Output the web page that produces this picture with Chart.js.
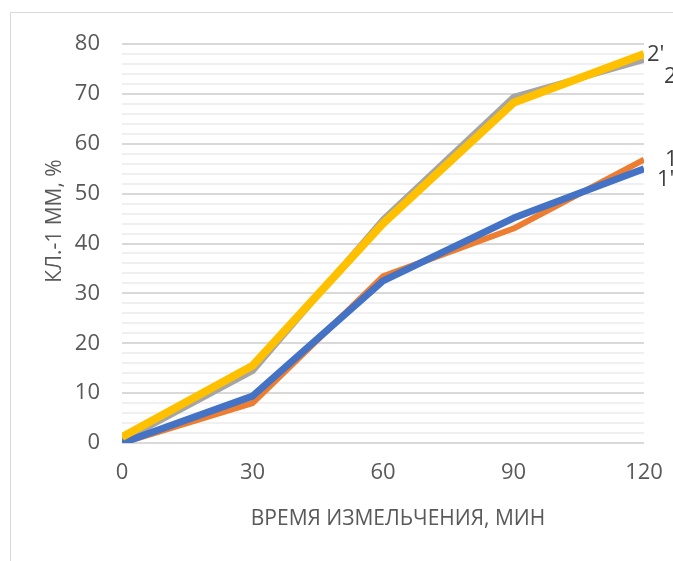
<!DOCTYPE html>
<html>
<head>
<meta charset="utf-8">
<script src="https://cdn.jsdelivr.net/npm/chart.js@4.4.1/dist/chart.umd.min.js"></script>
<style>
  body { margin: 0; background: #fff; }
  #wrap { position: relative; width: 673px; height: 561px; overflow: hidden; }
  #frame { position: absolute; left: 10px; top: 12px; right: -2px; bottom: -2px;
           border-left: 1px solid #d9d9d9; border-top: 1px solid #d9d9d9; }
  canvas { position: absolute; left: 0; top: 0; }
</style>
</head>
<body>
<div id="wrap">
  <div id="frame"></div>
  <canvas id="chart" width="673" height="561"></canvas>
</div>
<script>
// data
var timeMin = [0, 30, 60, 90, 120];
var curve1 = [0, 8.0, 33.4, 43.0, 56.8];        // orange, "1"
var curve1p = [0, 9.4, 32.5, 45.1, 55.0];       // blue, "1'"
var curve2 = [0.4, 14.4, 44.8, 69.4, 76.8];     // gray, "2"
var curve2p = [1.2, 15.5, 44.0, 68.2, 78.0];    // yellow, "2'"
var curveNames = ["2'", "1'", "2", "1"];
var yTickLabels = [0, 10, 20, 30, 40, 50, 60, 70, 80];
var xTitle = 'ВРЕМЯ ИЗМЕЛЬЧЕНИЯ, МИН';
var yTitle = 'КЛ.-1 ММ, %';

var fontFam = "'Open Sans', 'Noto Sans', sans-serif";
var textColor = '#595959';

function toPoints(ys) {
    var pts = [];
    for (var i = 0; i < ys.length; i++) {
        pts.push({x: timeMin[i], y: ys[i]});
    }
    return pts;
}

// offsets of the end labels (px) from last point of each line
var labelOffsets = [[3, 1], [13, 11], [20, 17], [21, 0]];

var extraText = {
    id: 'extraText',
    afterDatasetsDraw: function(chart) {
        var ctx = chart.ctx;
        ctx.save();
        ctx.font = '22px ' + fontFam;
        ctx.fillStyle = '#404040';
        ctx.textBaseline = 'middle';
        ctx.textAlign = 'left';
        chart.data.datasets.forEach(function(ds, i) {
            var last = ds.data[ds.data.length - 1];
            var px = chart.scales.x.getPixelForValue(last.x);
            var py = chart.scales.y.getPixelForValue(last.y);
            ctx.fillText(curveNames[i], px + labelOffsets[i][0], py + labelOffsets[i][1]);
        });
        // axis titles
        ctx.font = '21px ' + fontFam;
        ctx.fillStyle = textColor;
        ctx.textAlign = 'center';
        ctx.fillText(xTitle, 398, 519);
        ctx.translate(55, 221);
        ctx.rotate(-Math.PI / 2);
        ctx.fillText(yTitle, 0, 0);
        ctx.restore();
    }
};

var ctx = document.getElementById('chart').getContext('2d');
var myChart = new Chart(ctx, {
    type: 'line',
    data: {
        datasets: [
            {label: "2'", data: toPoints(curve2p), borderColor: '#FFC000', borderWidth: 8},
            {label: "1'", data: toPoints(curve1p), borderColor: '#4472C4', borderWidth: 7},
            {label: "2", data: toPoints(curve2), borderColor: '#A5A5A5', borderWidth: 6},
            {label: "1", data: toPoints(curve1), borderColor: '#ED7D31', borderWidth: 6}
        ]
    },
    options: {
        responsive: false,
        animation: false,
        layout: { padding: { left: 0, top: 44, right: 29, bottom: 0 } },
        elements: {
            point: { radius: 0 },
            line: { tension: 0, borderCapStyle: 'butt', borderJoinStyle: 'round' }
        },
        plugins: { legend: { display: false }, tooltip: { enabled: false } },
        scales: {
            x: {
                type: 'linear',
                min: 0, max: 120,
                afterFit: function(s) {
                    s.height = 118;
                    s.paddingLeft = 0;
                    s.paddingRight = 0;
                },
                afterBuildTicks: function(s) {
                    s.ticks = timeMin.map(function(v) { return {value: v}; });
                },
                grid: { display: false, drawTicks: false },
                border: { display: false },
                ticks: {
                    padding: 17,
                    maxRotation: 0,
                    color: textColor,
                    font: { family: fontFam, size: 22 }
                }
            },
            y: {
                min: 0, max: 80,
                afterFit: function(s) {
                    s.width = 122;
                    s.paddingTop = 0;
                    s.paddingBottom = 0;
                },
                grid: {
                    drawTicks: false,
                    lineWidth: 2,
                    color: function(c) {
                        return yTickLabels.indexOf(c.tick.value) >= 0 ? '#d9d9d9' : '#f0f0f0';
                    }
                },
                border: { display: false },
                ticks: {
                    stepSize: 2,
                    autoSkip: false,
                    padding: 22,
                    color: textColor,
                    font: { family: fontFam, size: 22 },
                    callback: function(v) {
                        return yTickLabels.indexOf(v) >= 0 ? String(v) : '';
                    }
                }
            }
        }
    },
    plugins: [extraText]
});
</script>
</body>
</html>
